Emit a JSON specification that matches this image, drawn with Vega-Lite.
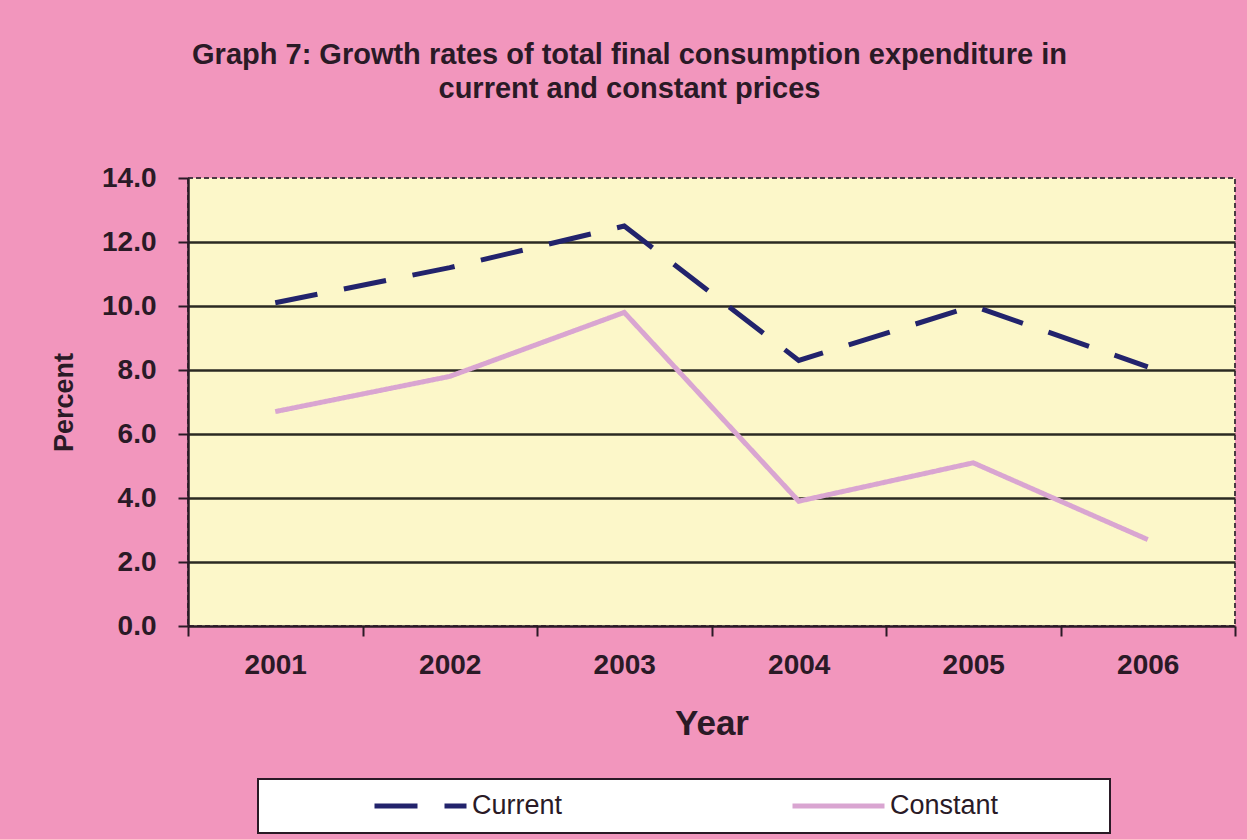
{
  "$schema": "https://vega.github.io/schema/vega-lite/v6.json",
  "width": 1047,
  "height": 448,
  "autosize": {"type": "none"},
  "padding": {"left": 188, "top": 178, "right": 12, "bottom": 213},
  "background": "#f296bd",
  "title": {
    "text": ["Graph 7: Growth rates of total final consumption expenditure in", "current and constant prices"],
    "font": "Liberation Sans",
    "fontSize": 29,
    "fontWeight": "bold",
    "color": "#2a1a26",
    "anchor": "middle",
    "frame": "group",
    "dx": -82,
    "offset": 60,
    "lineHeight": 34
  },
  "data": {
    "values": [
      {"year": "2001", "series": "Current", "rate": 10.1},
      {"year": "2002", "series": "Current", "rate": 11.2},
      {"year": "2003", "series": "Current", "rate": 12.5},
      {"year": "2004", "series": "Current", "rate": 8.3},
      {"year": "2005", "series": "Current", "rate": 10.0},
      {"year": "2006", "series": "Current", "rate": 8.1},
      {"year": "2001", "series": "Constant", "rate": 6.7},
      {"year": "2002", "series": "Constant", "rate": 7.8},
      {"year": "2003", "series": "Constant", "rate": 9.8},
      {"year": "2004", "series": "Constant", "rate": 3.9},
      {"year": "2005", "series": "Constant", "rate": 5.1},
      {"year": "2006", "series": "Constant", "rate": 2.7}
    ]
  },
  "mark": {"type": "line", "strokeWidth": 5, "strokeCap": "butt"},
  "encoding": {
    "x": {
      "field": "year",
      "type": "ordinal",
      "scale": {"type": "band", "paddingInner": 0, "paddingOuter": 0},
      "axis": {
        "title": "Year",
        "titleFont": "Liberation Sans",
        "titleFontSize": 35,
        "titleFontWeight": "bold",
        "titleColor": "#2a1a26",
        "titlePadding": 27,
        "labelFont": "Liberation Sans",
        "labelFontSize": 28,
        "labelFontWeight": "bold",
        "labelColor": "#2a1a26",
        "labelAngle": 0,
        "labelPadding": 15,
        "tickBand": "extent",
        "tickSize": 10,
        "tickWidth": 2,
        "tickColor": "#2a1a26",
        "domainColor": "#2a1a26",
        "domainWidth": 2.5,
        "grid": false
      }
    },
    "y": {
      "field": "rate",
      "type": "quantitative",
      "scale": {"domain": [0, 14], "nice": false},
      "axis": {
        "title": "Percent",
        "titleFont": "Liberation Sans",
        "titleFontSize": 27,
        "titleFontWeight": "bold",
        "titleColor": "#2a1a26",
        "titlePadding": 23,
        "values": [0, 2, 4, 6, 8, 10, 12, 14],
        "format": ".1f",
        "labelFont": "Liberation Sans",
        "labelFontSize": 28,
        "labelFontWeight": "bold",
        "labelColor": "#2a1a26",
        "labelPadding": 22,
        "tickSize": 10,
        "tickWidth": 2,
        "tickColor": "#2a1a26",
        "domainColor": "#2a1a26",
        "domainWidth": 2.5,
        "grid": true,
        "gridColor": "#2b2a22",
        "gridWidth": 2.5,
        "gridOpacity": {"condition": {"test": "datum.value == 14 || datum.value == 0", "value": 0}, "value": 1}
      }
    },
    "color": {
      "field": "series",
      "type": "nominal",
      "scale": {"domain": ["Current", "Constant"], "range": ["#22236c", "#d9a5d1"]},
      "legend": {
        "orient": "none",
        "legendX": 70,
        "legendY": 601,
        "direction": "horizontal",
        "title": null,
        "fillColor": "#ffffff",
        "strokeColor": "#2a1a26",
        "padding": 14,
        "clipHeight": 26,
        "symbolType": "stroke",
        "symbolSize": 8464,
        "symbolStrokeWidth": 5,
        "symbolOffset": 100,
        "labelOffset": 3,
        "columnPadding": 127,
        "labelFont": "Liberation Sans",
        "labelFontSize": 27,
        "labelColor": "#2a1a26",
        "labelLimit": 400,
        "labelExpr": "datum.label == 'Constant' ? 'Constant\u00a0\u00a0\u00a0\u00a0\u00a0\u00a0\u00a0\u00a0\u00a0\u00a0\u00a0\u00a0\u00a0\u200b' : datum.label",
        "encode": {"legend": {"update": {"strokeWidth": {"value": 2}}}}
      }
    },
    "strokeDash": {
      "field": "series",
      "type": "nominal",
      "scale": {"domain": ["Current", "Constant"], "range": [[43, 27], [1, 0]]}
    }
  },
  "config": {
    "view": {"fill": "#fcf7c9", "stroke": "#4a3a44", "strokeDash": [5, 3], "strokeWidth": 2}
  }
}
